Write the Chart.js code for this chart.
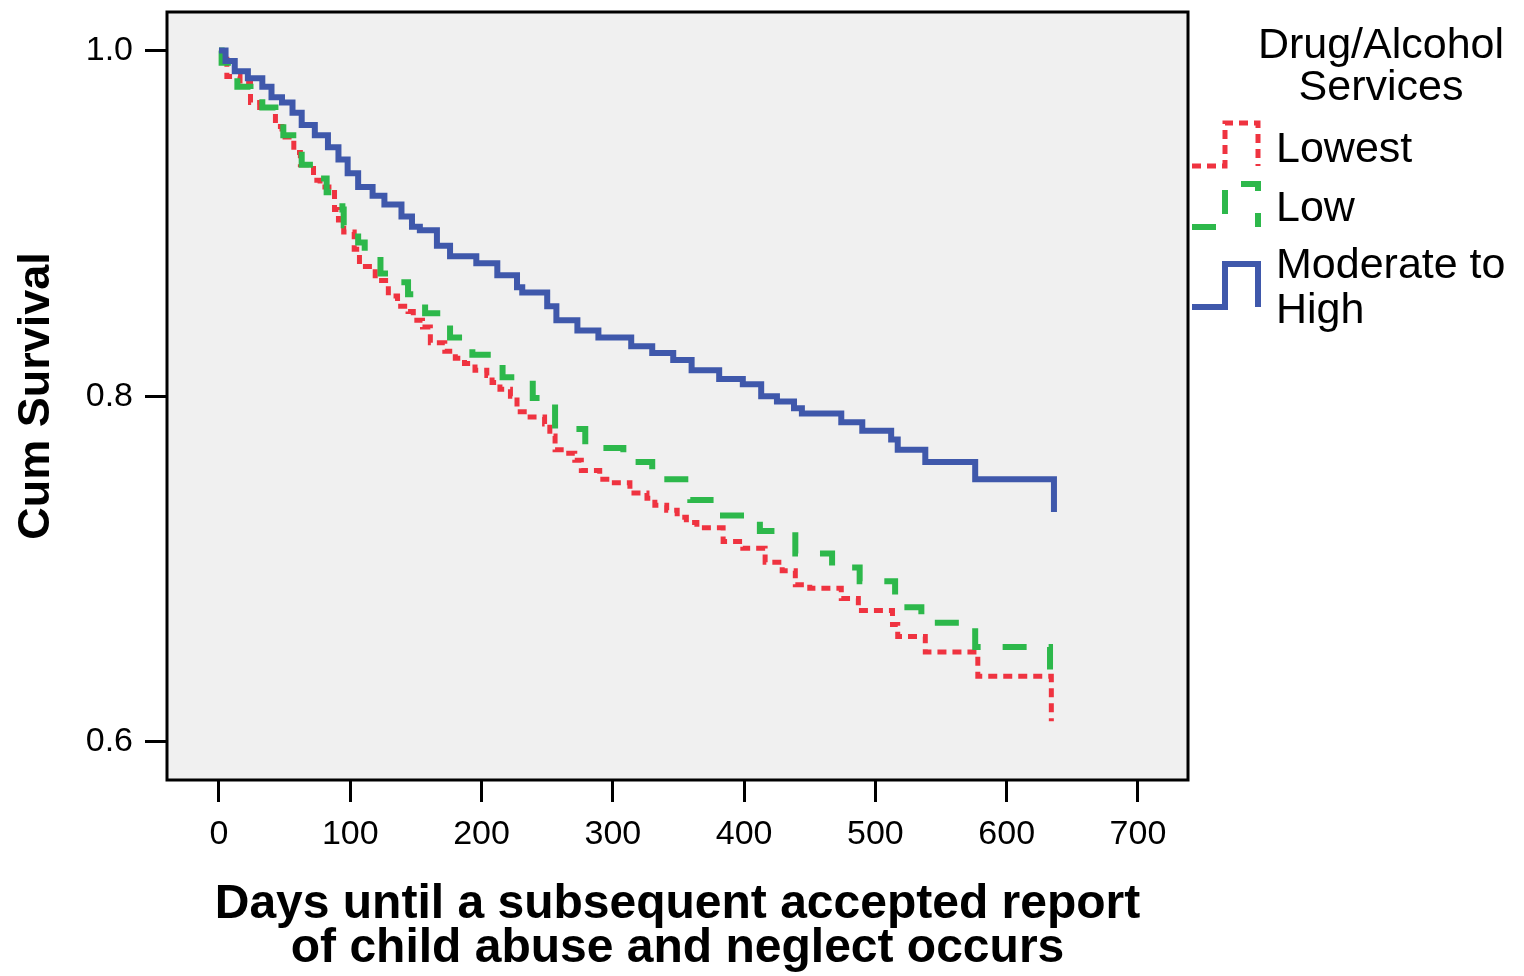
<!DOCTYPE html>
<html>
<head>
<meta charset="utf-8">
<script src="https://cdn.jsdelivr.net/npm/chart.js@4/dist/chart.umd.min.js"></script>
<style>
  body { margin: 0; background: #fff; }
  #wrap { width: 1524px; height: 976px; position: relative; }
</style>
</head>
<body>
<div id="wrap"><canvas id="chart"></canvas></div>
<script>
// Data
const lowestDays = [0, 2, 6, 16, 24, 31, 43, 48, 57, 62, 72, 77, 88, 91, 95, 103, 107, 119, 129, 136, 144, 148, 155, 161, 172, 180, 187, 195, 204, 208, 214, 222, 227, 237, 248, 252, 256, 263, 271, 276, 290, 299, 313, 326, 332, 341, 349, 356, 364, 384, 399, 416, 429, 439, 450, 474, 487, 513, 517, 538, 578, 634];
const lowestSurv = [1.0, 0.995, 0.985, 0.981, 0.970, 0.967, 0.956, 0.950, 0.941, 0.934, 0.925, 0.921, 0.908, 0.902, 0.895, 0.885, 0.875, 0.867, 0.858, 0.852, 0.849, 0.844, 0.840, 0.831, 0.826, 0.822, 0.819, 0.815, 0.812, 0.808, 0.804, 0.800, 0.791, 0.788, 0.784, 0.777, 0.769, 0.767, 0.763, 0.757, 0.752, 0.750, 0.744, 0.741, 0.737, 0.734, 0.730, 0.727, 0.724, 0.716, 0.712, 0.704, 0.699, 0.691, 0.689, 0.683, 0.676, 0.668, 0.661, 0.652, 0.638, 0.612];

const lowDays = [0, 2, 14, 24, 33, 43, 49, 60, 63, 77, 82, 94, 95, 106, 111, 123, 129, 144, 157, 176, 193, 216, 239, 256, 279, 308, 330, 359, 381, 412, 439, 467, 488, 515, 535, 576, 633];
const lowSurv = [1.0, 0.993, 0.979, 0.973, 0.967, 0.959, 0.951, 0.942, 0.934, 0.926, 0.918, 0.908, 0.899, 0.889, 0.883, 0.871, 0.866, 0.859, 0.848, 0.834, 0.824, 0.811, 0.799, 0.781, 0.770, 0.762, 0.752, 0.740, 0.731, 0.722, 0.709, 0.701, 0.693, 0.678, 0.669, 0.655, 0.639];

const modHighDays = [0, 5, 12, 22, 33, 40, 48, 56, 63, 73, 83, 91, 98, 106, 117, 126, 139, 147, 153, 166, 176, 196, 212, 227, 231, 250, 257, 273, 289, 314, 330, 346, 360, 381, 399, 413, 425, 438, 444, 474, 490, 512, 517, 538, 576, 636];
const modHighSurv = [1.0, 0.994, 0.988, 0.984, 0.979, 0.973, 0.970, 0.964, 0.957, 0.951, 0.944, 0.937, 0.929, 0.921, 0.916, 0.911, 0.904, 0.898, 0.896, 0.887, 0.881, 0.877, 0.870, 0.863, 0.860, 0.852, 0.844, 0.838, 0.834, 0.829, 0.825, 0.821, 0.815, 0.810, 0.807, 0.800, 0.797, 0.793, 0.790, 0.785, 0.780, 0.775, 0.769, 0.762, 0.752, 0.733];

const xTicks = [0, 100, 200, 300, 400, 500, 600, 700];
const yTicks = [0.6, 0.8, 1.0];

const legendTitle = ["Drug/Alcohol", "Services"];
const seriesNames = ["Lowest", "Low", ["Moderate to", "High"]];

const FONT = "'Liberation Sans', Arial, Helvetica, sans-serif";
const RED = "#ef3340";
const GREEN = "#2db84b";
const BLUE = "#3f58ab";

function toPoints(days, surv) {
  return days.map((d, i) => ({ x: d, y: surv[i] }));
}

// plot background + frame
const framePlugin = {
  id: "frame",
  beforeDraw(chart) {
    const { ctx, chartArea: a } = chart;
    ctx.save();
    ctx.fillStyle = "#f0f0f0";
    ctx.fillRect(a.left, a.top, a.right - a.left, a.bottom - a.top);
    ctx.restore();
  },
  afterDraw(chart) {
    const { ctx, chartArea: a } = chart;
    ctx.save();
    ctx.strokeStyle = "#000";
    ctx.lineWidth = 3;
    ctx.strokeRect(a.left, a.top, a.right - a.left, a.bottom - a.top);
    ctx.restore();
  },
};

// SPSS style legend with step icons
const stepLegend = {
  id: "stepLegend",
  afterDraw(chart) {
    const { ctx, chartArea: a } = chart;
    const x0 = a.right + 4;
    ctx.save();
    ctx.fillStyle = "#000";
    ctx.font = "43px " + FONT;
    ctx.textBaseline = "alphabetic";
    ctx.textAlign = "center";
    ctx.fillText(legendTitle[0], x0 + 189, 58);
    ctx.fillText(legendTitle[1], x0 + 189, 100);

    const lows = [166, 227, 307];
    const labelBase = [162, 221, 278];
    chart.data.datasets.forEach((ds, i) => {
      const yl = lows[i];
      const yh = yl - 43;
      ctx.strokeStyle = ds.borderColor;
      ctx.lineWidth = ds.borderWidth;
      ctx.setLineDash(ds.borderDash || []);
      ctx.beginPath();
      ctx.moveTo(x0, yl);
      ctx.lineTo(x0 + 33, yl);
      ctx.lineTo(x0 + 33, yh);
      ctx.lineTo(x0 + 66, yh);
      ctx.lineTo(x0 + 66, yl);
      ctx.stroke();
      ctx.setLineDash([]);
      ctx.textAlign = "left";
      const name = seriesNames[i];
      const lines = Array.isArray(name) ? name : [name];
      lines.forEach((t, j) => ctx.fillText(t, x0 + 84, labelBase[i] + j * 45));
    });
    ctx.restore();
  },
};

new Chart(document.getElementById("chart"), {
  type: "line",
  data: {
    datasets: [
      {
        label: "Lowest",
        data: toPoints(lowestDays, lowestSurv),
        borderColor: RED,
        borderWidth: 5,
        borderDash: [9, 6],
        stepped: true,
        pointRadius: 0,
        fill: false,
        order: 2,
      },
      {
        label: "Low",
        data: toPoints(lowDays, lowSurv),
        borderColor: GREEN,
        borderWidth: 6,
        borderDash: [24, 22],
        stepped: true,
        pointRadius: 0,
        fill: false,
        order: 1,
      },
      {
        label: "Moderate to High",
        data: toPoints(modHighDays, modHighSurv),
        borderColor: BLUE,
        borderWidth: 6,
        stepped: true,
        pointRadius: 0,
        fill: false,
        order: 0,
      },
    ],
  },
  options: {
    responsive: true,
    maintainAspectRatio: false,
    animation: false,
    devicePixelRatio: 1,
    layout: { padding: { left: 0, top: 12, right: 336, bottom: 0 } },
    plugins: {
      legend: { display: false },
      tooltip: { enabled: false },
    },
    elements: { line: { borderJoinStyle: "miter", tension: 0 } },
    scales: {
      x: {
        type: "linear",
        min: -39.6,
        max: 738.1,
        afterBuildTicks: (s) => { s.ticks = xTicks.map((v) => ({ value: v })); },
        afterFit: (s) => { s.height = 196; s.paddingLeft = 0; s.paddingRight = 0; },
        border: { display: false },
        grid: { drawOnChartArea: false, drawTicks: true, tickLength: 22, tickWidth: 3, tickColor: "#000" },
        ticks: {
          color: "#000",
          padding: 16,
          maxRotation: 0,
          font: { family: FONT, size: 34, lineHeight: 1 },
        },
        title: {
          display: true,
          text: ["Days until a subsequent accepted report", "of child abuse and neglect occurs"],
          color: "#000",
          font: { family: FONT, size: 48, weight: "bold", lineHeight: 0.9 },
          padding: { top: 0, bottom: 6 },
        },
      },
      y: {
        min: 0.578,
        max: 1.0223,
        afterBuildTicks: (s) => { s.ticks = yTicks.map((v) => ({ value: v })); },
        afterFit: (s) => { s.width = 167; s.paddingTop = 0; s.paddingBottom = 0; },
        border: { display: false },
        grid: { drawOnChartArea: false, drawTicks: true, tickLength: 22, tickWidth: 3, tickColor: "#000" },
        ticks: {
          color: "#000",
          padding: 12,
          callback: (v) => Number(v).toFixed(1),
          font: { family: FONT, size: 34, lineHeight: 1 },
        },
        title: {
          display: true,
          text: "Cum Survival",
          color: "#000",
          font: { family: FONT, size: 45, weight: "bold", lineHeight: 1 },
          padding: { top: 14, bottom: 0 },
        },
      },
    },
  },
  plugins: [framePlugin, stepLegend],
});
</script>
</body>
</html>
